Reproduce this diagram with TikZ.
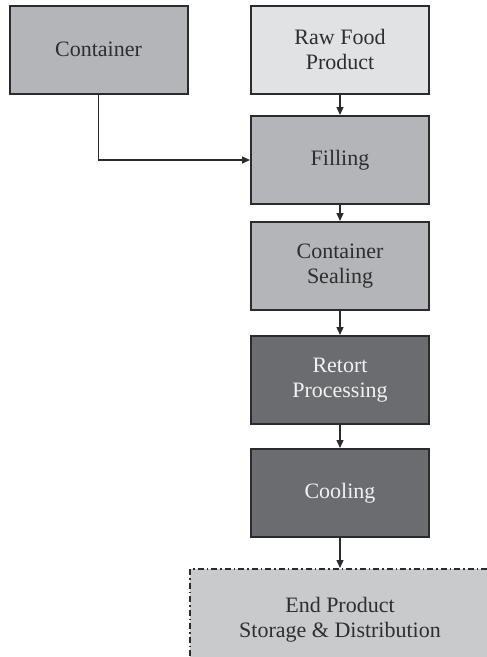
\documentclass[tikz,border=0pt]{standalone}
\usepackage{fontspec}
\setmainfont{Liberation Serif}
\usetikzlibrary{arrows.meta}
\definecolor{boxline}{HTML}{2B2B2B}
\definecolor{fillmid}{HTML}{B4B5B8}
\definecolor{filllight}{HTML}{E1E2E4}
\definecolor{filldark}{HTML}{6B6C6F}
\definecolor{fillend}{HTML}{C9CACC}
\definecolor{textdark}{HTML}{2E2E2E}
\definecolor{textlight}{HTML}{F2F2F2}
\tikzset{
  stepbox/.style={draw=boxline, line width=2pt, minimum width=178pt, minimum height=88pt,
    align=center, inner sep=0pt, font=\fontsize{22}{25}\selectfont, text=textdark},
  midbox/.style={stepbox, fill=fillmid},
  lightbox/.style={stepbox, fill=filllight},
  darkbox/.style={stepbox, fill=filldark, text=textlight},
  flow/.style={draw=boxline, line width=1.4pt, -{Triangle[length=8pt,width=7pt]}}
}
\begin{document}
\begin{tikzpicture}[x=1pt, y=-1pt]
  \useasboundingbox (0,0) rectangle (487,657);
  \clip (0,0) rectangle (487,657);
  \node[midbox]   (cont)  at (98.5,49.5)  {Container};
  \node[lightbox] (raw)   at (340,49.5)   {Raw Food\\Product};
  \node[midbox]   (fill)  at (340,160)    {Filling};
  \node[midbox]   (seal)  at (340,266)    {Container\\Sealing};
  \node[darkbox]  (ret)   at (340,380)    {Retort\\Processing};
  \node[darkbox]  (cool)  at (340,493)    {Cooling};
  \node[stepbox, fill=fillend, draw=boxline, line width=2pt,
        dash pattern=on 6pt off 3pt on 1.5pt off 3pt,
        minimum width=300pt, minimum height=102pt] (endp) at (340,620)
        {End Product\\Storage \& Distribution};
  \draw[flow] (raw) -- (fill);
  \draw[flow] (cont.south) |- (fill.west);
  \draw[flow] (fill) -- (seal);
  \draw[flow] (seal) -- (ret);
  \draw[flow] (ret) -- (cool);
  \draw[flow] (cool) -- (endp);
\end{tikzpicture}
\end{document}
